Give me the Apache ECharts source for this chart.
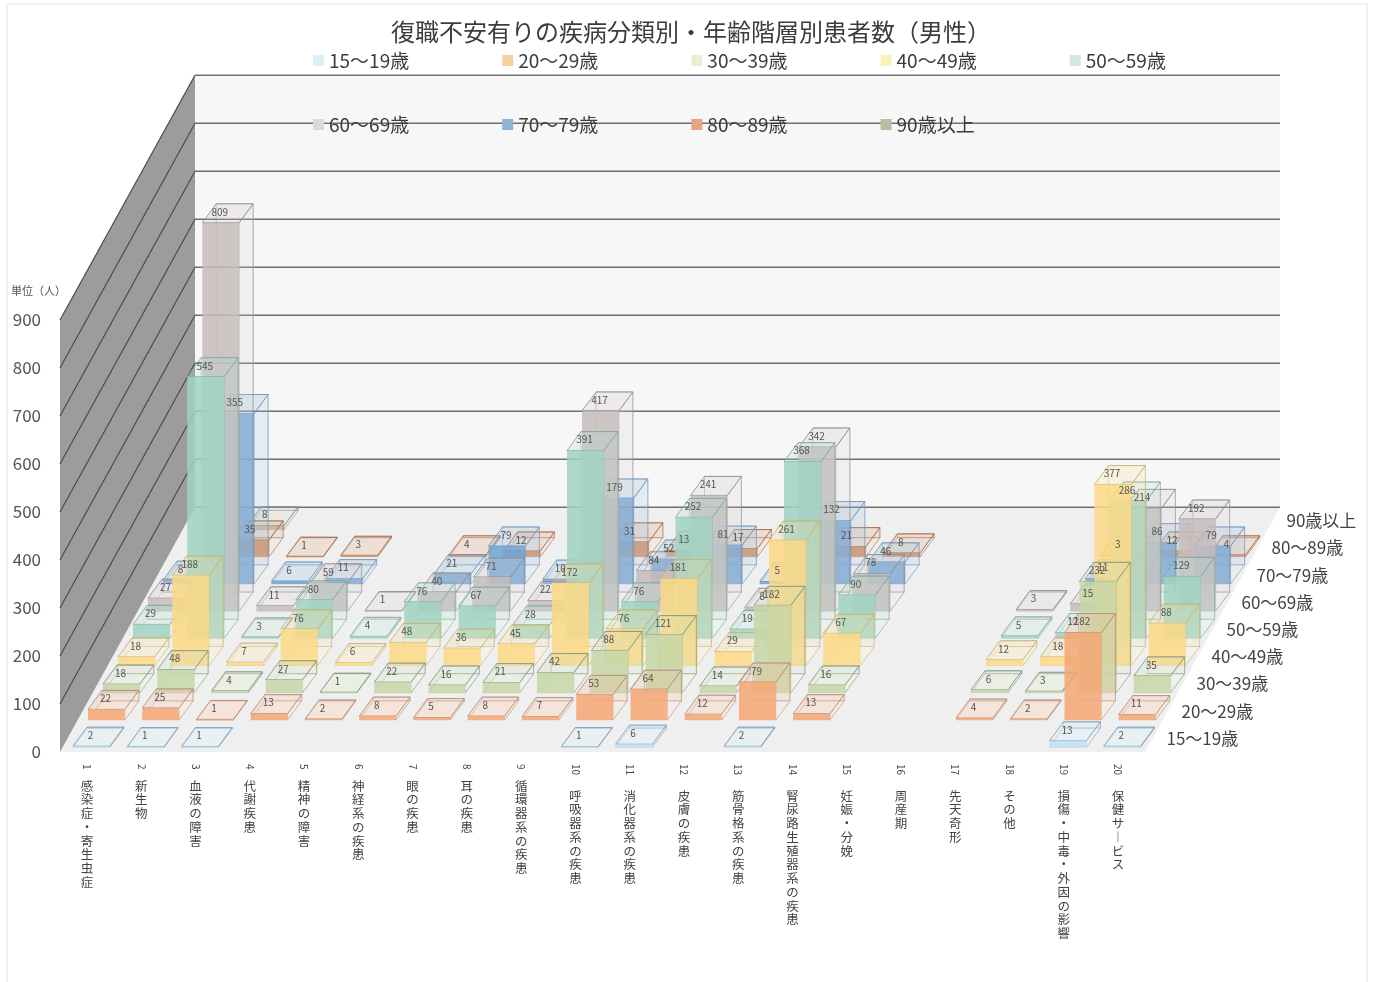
<!DOCTYPE html>
<html><head><meta charset="utf-8">
<style>html,body{margin:0;padding:0;background:#fff}#c{width:1378px;height:982px}</style>
<script src="https://cdn.jsdelivr.net/npm/echarts@6/dist/echarts.min.js"></script>
</head><body><div id="c"></div>
<script>
const categories = ["感染症・寄生虫症","新生物","血液の障害","代謝疾患","精神の障害","神経系の疾患","眼の疾患","耳の疾患","循環器系の疾患","呼吸器系の疾患","消化器系の疾患","皮膚の疾患","筋骨格系の疾患","腎尿路生殖器系の疾患","妊娠・分娩","周産期","先天奇形","その他","損傷・中毒・外因の影響","保健サービス"];
const ageNames = ["15～19歳","20～29歳","30～39歳","40～49歳","50～59歳","60～69歳","70～79歳","80～89歳","90歳以上"];
const yTicks = [0,100,200,300,400,500,600,700,800,900];
const age15 = [2,1,1,null,null,null,null,null,null,1,6,null,2,null,null,null,null,null,13,2];
const age20 = [22,25,1,13,2,8,5,8,7,53,64,12,79,13,null,null,4,2,182,11];
const age30 = [18,48,4,27,1,22,16,21,42,88,121,14,182,16,null,null,6,3,232,35];
const age40 = [18,188,7,76,6,48,36,45,172,76,181,29,261,67,null,null,12,18,377,88];
const age50 = [29,545,3,80,4,76,67,28,391,76,252,19,368,90,null,null,5,12,286,129];
const age60 = [27,809,11,59,1,40,71,22,417,84,241,8,342,78,null,null,3,15,214,192];
const age70 = [8,355,6,11,null,21,79,10,179,52,81,5,132,46,null,null,null,11,86,79];
const age80 = [null,35,1,3,null,4,12,null,31,13,17,null,21,8,null,null,null,3,12,4];
const age90 = [null,8,null,null,null,null,null,null,null,null,null,null,null,null,null,null,null,null,null,null];
const ageValues = [age15,age20,age30,age40,age50,age60,age70,age80,age90];

const frontColors = ["#BFE0F2","#F5A673","#C6D6A6","#FBD885","#9FD3C1","#C6BBBC","#6FA3D4","#D48A58","#B5BDA2"];
const edgeColors = ["#7C9DBD","#B58C7C","#82957B","#C9B36C","#7FA89C","#908C8C","#6F94BA","#A4694A","#8A8A8A"];
const legendColors = ["#DDF0F8","#F8CFA0","#E9EFD2","#FAF1B5","#CFE8E1","#D9D9D9","#8FB4D8","#E8A480","#B6BFA4"];

const FONT = '"Noto Sans CJK JP","Noto Sans",sans-serif';
const DX = 15, DY = -27.2, ROWS = 9;
const SKEW_X = 14, SKEW_Y = -19, HALF = 0.34, SHIFT = 0.03, BASE = 0.18;

function rgba(hex,a){
  const n = parseInt(hex.slice(1),16);
  return 'rgba('+(n>>16)+','+((n>>8)&255)+','+(n&255)+','+a+')';
}

function renderFrame(params, api){
  const band = api.size([1,0])[0];
  const left = api.coord([0,0])[0] - band/2;
  const P = (u,d,v) => [left + u*band + d*DX, api.coord([0,v])[1] + d*DY];
  const poly = (pts,fill) => ({type:'polygon',z2:0,shape:{points:pts},style:{fill,stroke:null}});
  const line = (a,b,stroke,w) => ({type:'line',z2:1,shape:{x1:a[0],y1:a[1],x2:b[0],y2:b[1]},style:{stroke,lineWidth:w}});
  const top = yTicks[yTicks.length-1];
  const n = categories.length;
  const ch = [
    poly([P(0,ROWS,0),P(n,ROWS,0),P(n,ROWS,top),P(0,ROWS,top)],'#F7F7F7'),
    poly([P(0,0,0),P(n,0,0),P(n,ROWS,0),P(0,ROWS,0)],'#EFEFEF'),
    poly([P(0,0,0),P(0,ROWS,0),P(0,ROWS,top),P(0,0,top)],'#9C9C9C')
  ];
  yTicks.forEach(v=>{
    if(v>0) ch.push(line(P(0,0,v),P(0,ROWS,v),'#4A4A4A',1.2));
    ch.push(line(P(0,ROWS,v),P(n,ROWS,v),'#707070',1.4));
  });
  ageNames.forEach((name,r)=>{
    const p = P(n,r+0.5,0);
    ch.push({type:'text',z2:2,style:{text:name,x:p[0]+14,y:p[1],align:'left',verticalAlign:'middle',fill:'#444',font:'17px '+FONT}});
  });
  return {type:'group',children:ch};
}

function barRenderer(row){
  return function(params, api){
    const c = api.value(0), v = api.value(1);
    const band = api.size([1,0])[0];
    const cx = api.coord([c,0])[0];
    const y0 = api.coord([c,0])[1];
    const yv = api.coord([c,v])[1];
    const d = row + BASE;
    const xl = cx + (SHIFT-HALF)*band + d*DX, xr = cx + (SHIFT+HALF)*band + d*DX;
    const yb = y0 + d*DY, yt = yv + d*DY;
    const zb = (8-row)*10 + 10;
    const edge = edgeColors[row], fill = frontColors[row];
    const children = [
      {type:'polygon',z2:zb,shape:{points:[[xl+SKEW_X,yb+SKEW_Y],[xr+SKEW_X,yb+SKEW_Y],[xr+SKEW_X,yt+SKEW_Y],[xl+SKEW_X,yt+SKEW_Y]]},style:{fill:'rgba(255,255,255,0.08)',stroke:rgba(edge,0.55),lineWidth:0.8}},
      {type:'polygon',z2:zb+1,shape:{points:[[xr,yb],[xr+SKEW_X,yb+SKEW_Y],[xr+SKEW_X,yt+SKEW_Y],[xr,yt]]},style:{fill:rgba(fill,0.14),stroke:rgba(edge,0.5),lineWidth:0.8}},
      {type:'polygon',z2:zb+1,shape:{points:[[xl,yb],[xr,yb],[xr+SKEW_X,yb+SKEW_Y],[xl+SKEW_X,yb+SKEW_Y]]},style:{fill:'rgba(255,255,255,0.3)',stroke:rgba(edge,0.45),lineWidth:0.8}},
      {type:'polygon',z2:zb+2,shape:{points:[[xl,yt],[xr,yt],[xr+SKEW_X,yt+SKEW_Y],[xl+SKEW_X,yt+SKEW_Y]]},style:{fill:rgba(fill,0.2),stroke:rgba(edge,0.85),lineWidth:1}},
      {type:'rect',z2:zb+3,shape:{x:xl,y:yt,width:xr-xl,height:Math.max(yb-yt,1)},style:{fill:fill,opacity:0.86}},
      {type:'text',z2:1000,style:{text:String(v),x:(xl+xr)/2-1,y:yt-11,align:'center',verticalAlign:'middle',fill:'#555',font:'10px '+FONT}}
    ];
    return {type:'group',children};
  };
}

const barSeries = ageNames.map((name,r)=>({
  type:'custom', name, coordinateSystem:'cartesian2d', xAxisIndex:0, yAxisIndex:0, clip:false, z:5,
  itemStyle:{color:legendColors[r]},
  encode:{x:0,y:1},
  renderItem:barRenderer(r),
  data:ageValues[r].map((v,c)=>v==null?null:[c,v]).filter(Boolean)
})).reverse();

function stack(name,i){
  const shown = name.replace(/ー/g,'︱');
  const lines = Array.from(shown).map(ch=>'{t|'+ch+'}');
  if(i>=9) lines.unshift('{s| }');
  return lines.join('\n');
}

const legendBase = {left:308,itemWidth:11,itemHeight:11,itemGap:93,icon:'rect',textStyle:{fontFamily:FONT,fontSize:19,color:'#3C3C3C'}};
const option = {
  animation:false,
  backgroundColor:'#fff',
  textStyle:{fontFamily:FONT},
  title:{text:'復職不安有りの疾病分類別・年齢階層別患者数（男性）',left:686,textAlign:'center',top:15,textStyle:{fontFamily:FONT,fontSize:24,fontWeight:'normal',color:'#3C3C3C'}},
  graphic:[{type:'rect',z:-1,shape:{x:7,y:4,width:1360,height:1000},style:{fill:'#fff',stroke:'#E4E4E4',lineWidth:1}}],
  legend:[
    Object.assign({},legendBase,{top:46,data:ageNames.slice(0,5).map((n,i)=>({name:n,itemStyle:{color:legendColors[i]}}))}),
    Object.assign({},legendBase,{top:110,data:ageNames.slice(5).map((n,i)=>({name:n,itemStyle:{color:legendColors[i+5]}}))})
  ],
  grid:{left:60,width:1085,top:320,height:432,containLabel:false},
  xAxis:[
    {type:'category',data:categories.map((n,i)=>String(i+1)),position:'bottom',axisLine:{show:false},axisTick:{show:false},
     axisLabel:{interval:0,rotate:-90,margin:12,fontSize:10,color:'#444',fontFamily:FONT}},
    {type:'category',data:categories,position:'bottom',axisLine:{show:false},axisTick:{show:false},
     axisLabel:{interval:0,margin:27,color:'#444',verticalAlign:'top',align:'center',formatter:stack,
       rich:{t:{fontSize:12.5,lineHeight:13.75,fontFamily:FONT,color:'#444'},s:{fontSize:8,lineHeight:10}}}}
  ],
  yAxis:{type:'value',min:0,max:900,interval:100,name:'単位（人）',nameLocation:'end',nameGap:24,
    nameTextStyle:{fontFamily:FONT,fontSize:11,color:'#555',align:'right',padding:[0,-6,0,0]},
    axisLine:{show:false},axisTick:{show:false},splitLine:{show:false},
    axisLabel:{margin:19,fontSize:17,color:'#555',fontFamily:FONT}},
  series:[{type:'custom',name:'frame',coordinateSystem:'cartesian2d',xAxisIndex:0,yAxisIndex:0,clip:false,z:2,silent:true,encode:{x:0,y:1},renderItem:renderFrame,data:[[0,0]]}].concat(barSeries)
};
echarts.init(document.getElementById('c'),null,{renderer:'canvas'}).setOption(option);
</script></body></html>
